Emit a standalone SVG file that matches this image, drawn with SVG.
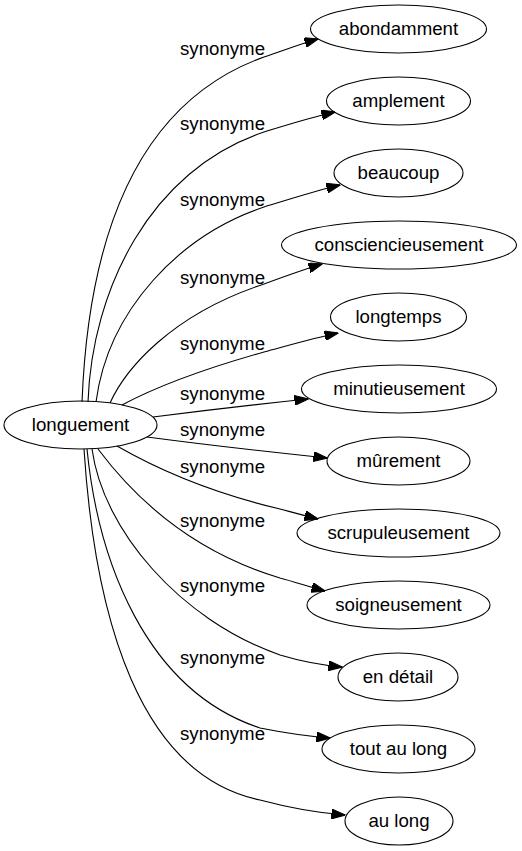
<svg xmlns="http://www.w3.org/2000/svg" width="522" height="851" viewBox="0 0 522 851">
<style>
.node ellipse{fill:none;stroke:#000;stroke-width:1.1}
.node text{font-family:"Liberation Sans",Arial,sans-serif;font-size:18.67px;text-anchor:middle;fill:#000}
.edge path{fill:none;stroke:#000;stroke-width:1.1;marker-end:url(#ah)}
.lbl{font-family:"Liberation Sans",Arial,sans-serif;font-size:18.67px;fill:#000}
</style>
<defs>
<marker id="ah" viewBox="0 0 14 10" markerWidth="14" markerHeight="10" refX="13.5" refY="5" orient="auto" markerUnits="userSpaceOnUse">
<path d="M0,0 L14,5 L0,10 z" fill="#000" stroke="#000" stroke-width="1"/>
</marker>
</defs>
<rect width="522" height="851" fill="#fff"/>
<g id="edges" class="edge">
<path d="M82,402 C88,250 130,105 264,57 C285,50 300,44 318,39"/>
<path d="M88,402 C92,290 150,170 264,132 C290,124 312,117 335,112"/>
<path d="M96,402 C108,310 180,235 264,207 C290,199 315,191 340,185"/>
<path d="M110,403 C125,370 170,315 264,284 C283,277 302,270 322,264"/>
<path d="M122,405 C150,390 200,370 264,352 C290,345 314,338 338,333"/>
<path d="M153,417 C200,411 250,405 308,399"/>
<path d="M147,437 C200,444 260,451 327,458"/>
<path d="M117,446 C150,465 200,490 280,509 C295,513 306,516 318,519"/>
<path d="M98,449 C125,485 180,548 280,578 C295,582 310,587 325,591"/>
<path d="M92,449 C103,530 180,620 280,655 C300,661 320,665 342,667"/>
<path d="M87,449 C98,560 145,690 260,728 C285,733 305,736 330,738"/>
<path d="M84,449 C95,620 140,775 260,800 C290,808 318,813 345,815"/>
<text class="lbl" x="180" y="55">synonyme</text>
<text class="lbl" x="180" y="130">synonyme</text>
<text class="lbl" x="180" y="206">synonyme</text>
<text class="lbl" x="180" y="284">synonyme</text>
<text class="lbl" x="180" y="350">synonyme</text>
<text class="lbl" x="180" y="400">synonyme</text>
<text class="lbl" x="180" y="436">synonyme</text>
<text class="lbl" x="180" y="473">synonyme</text>
<text class="lbl" x="180" y="527">synonyme</text>
<text class="lbl" x="180" y="592">synonyme</text>
<text class="lbl" x="180" y="664">synonyme</text>
<text class="lbl" x="180" y="740">synonyme</text>
</g>
<g id="longuement" class="node"><ellipse cx="80.5" cy="425" rx="76.5" ry="24"/><text x="80.5" y="431">longuement</text></g>
<g id="abondamment" class="node"><ellipse cx="398.5" cy="29" rx="88" ry="24"/><text x="398.5" y="35">abondamment</text></g>
<g id="amplement" class="node"><ellipse cx="398.5" cy="101" rx="72" ry="24"/><text x="398.5" y="107">amplement</text></g>
<g id="beaucoup" class="node"><ellipse cx="398.5" cy="173" rx="64.5" ry="24"/><text x="398.5" y="179">beaucoup</text></g>
<g id="consciencieusement" class="node"><ellipse cx="399" cy="245" rx="117.5" ry="24"/><text x="399" y="251">consciencieusement</text></g>
<g id="longtemps" class="node"><ellipse cx="398.5" cy="317" rx="68" ry="24"/><text x="398.5" y="323">longtemps</text></g>
<g id="minutieusement" class="node"><ellipse cx="399" cy="389" rx="97.5" ry="24"/><text x="399" y="395">minutieusement</text></g>
<g id="murement" class="node"><ellipse cx="398.5" cy="461" rx="71.5" ry="24"/><text x="398.5" y="467">mûrement</text></g>
<g id="scrupuleusement" class="node"><ellipse cx="398.5" cy="533" rx="101.5" ry="24"/><text x="398.5" y="539">scrupuleusement</text></g>
<g id="soigneusement" class="node"><ellipse cx="398.5" cy="605" rx="91.5" ry="24"/><text x="398.5" y="611">soigneusement</text></g>
<g id="en_detail" class="node"><ellipse cx="398" cy="677" rx="60" ry="24"/><text x="398" y="683">en détail</text></g>
<g id="tout_au_long" class="node"><ellipse cx="398.5" cy="749" rx="76.5" ry="24"/><text x="398.5" y="755">tout au long</text></g>
<g id="au_long" class="node"><ellipse cx="399" cy="821" rx="54" ry="24"/><text x="399" y="827">au long</text></g>
</svg>
